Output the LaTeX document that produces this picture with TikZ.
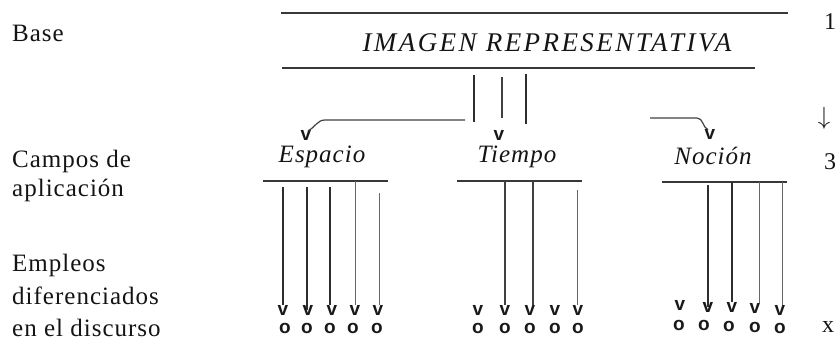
\documentclass[tikz,border=0pt]{standalone}
\usepackage{fontspec}
\setmainfont{Liberation Serif}
\newfontfamily\markfont{Liberation Sans}
\begin{document}
\begin{tikzpicture}[x=1pt,y=-1pt,
  lab/.style={anchor=base west, inner sep=0, text=black!92,
    font=\fontsize{25}{30}\selectfont\addfontfeatures{LetterSpace=4}},
  cat/.style={anchor=base, inner sep=0, text=black!92,
    font=\fontsize{25}{30}\selectfont\itshape\addfontfeatures{LetterSpace=4}},
  ttl/.style={anchor=base, inner sep=0, text=black!92,
    font=\fontsize{27}{30}\selectfont\itshape\addfontfeatures{LetterSpace=9}},
  num/.style={inner sep=0, text=black!92, font=\fontsize{24}{26}\selectfont},
  vm/.style={inner sep=0, text=black!90, font=\markfont\bfseries\fontsize{19}{20}\selectfont},
  om/.style={inner sep=0, text=black!90, font=\markfont\bfseries\fontsize{19}{20}\selectfont},
  rule/.style={draw=black!78, line width=1.4pt},
  darkln/.style={draw=black!82, line width=1.6pt},
  midln/.style={draw=black!75, line width=1.2pt},
  thinln/.style={draw=black!60, line width=1pt}]
\useasboundingbox (0,0) rectangle (840,344);

% left labels
\node[lab] (base) at (12,42) {Base};
\node[lab] (camp1) at (12,168) {Campos de};
\node[lab] (camp2) at (12,197) {aplicación};
\node[lab] (emp1) at (12,272) {Empleos};
\node[lab] (emp2) at (12,305) {diferenciados};
\node[lab] (emp3) at (12,337) {en el discurso};

% right column
\node[num] (n1) at (830,22) {1};
\node[num] (narr) at (824,118) {$\downarrow$};
\node[num] (n3) at (830,162) {3};
\node[num] (nx) at (828,327) {x};

% title
\coordinate (t1a) at (281,13); \coordinate (t1b) at (788,13);
\coordinate (t2a) at (282,68); \coordinate (t2b) at (755,68);
\draw[rule] (t1a) -- (t1b);
\draw[rule] (t2a) -- (t2b);
\node[ttl] (title) at (547,52) {IMAGEN REPRESENTATIVA};

% three stems
\coordinate (s1a) at (474,75); \coordinate (s1b) at (474,122);
\coordinate (s2a) at (502,77); \coordinate (s2b) at (502,118);
\coordinate (s3a) at (526,74); \coordinate (s3b) at (526,124);
\draw[darkln] (s1a) -- (s1b);
\draw[midln] (s2a) -- (s2b);
\draw[darkln] (s3a) -- (s3b);

% branch heads
\node[vm] (vE) at (306,135) {v};
\node[vm] (vT) at (499,135) {v};
\node[vm] (vN) at (710,134) {v};
\coordinate (bl1) at (465,120); \coordinate (bl2) at (325,120);
\draw[midln] (bl1) -- (bl2) to[out=180,in=25] ([xshift=2pt,yshift=-1pt]vE.north);
\coordinate (br1) at (650,118); \coordinate (br2) at (697,118);
\draw[midln] (br1) -- (br2) to[out=0,in=155] ([xshift=-2pt,yshift=-1pt]vN.north);

% categories
\node[cat] (esp) at (322,163) {Espacio};
\node[cat] (tie) at (517,163) {Tiempo};
\node[cat] (noc) at (713,165) {Noción};
\coordinate (eb1) at (263,181); \coordinate (eb2) at (388,181);
\coordinate (tb1) at (457,181); \coordinate (tb2) at (582,181);
\coordinate (nb1) at (662,182); \coordinate (nb2) at (787,182);
\draw[rule] (eb1) -- (eb2);
\draw[rule] (tb1) -- (tb2);
\draw[rule] (nb1) -- (nb2);

% Espacio marks
\foreach \i/\xv/\xo in {1/283/285,2/308/307,3/332/330,4/355/353,5/378/377}{
  \node[vm] (ve\i) at (\xv,310) {v};
  \node[om] (oe\i) at (\xo,328) {o};
}
% Tiempo marks
\foreach \i/\xv in {1/478,2/505,3/530,4/555,5/578}{
  \node[vm] (vt\i) at (\xv,310) {v};
  \node[om] (ot\i) at (\xv,328) {o};
}
% Nocion marks
\foreach \i/\xv/\yv/\xo/\yo in {1/680/305/679/325,2/708/307/704/325,3/732/307/729/326,4/755/308/755/327,5/780/310/780/328}{
  \node[vm] (vn\i) at (\xv,\yv) {v};
  \node[om] (on\i) at (\xo,\yo) {o};
}

% Espacio arrows
\coordinate (ea1) at (283,187); \coordinate (ea2) at (307,187);
\coordinate (ea3) at (330,187); \coordinate (ea4) at (355,181);
\coordinate (ea5) at (379,193);
\draw[darkln] (ea1) -- (ea1 |- ve1.north);
\draw[darkln] (ea2) -- (ea2 |- ve2.center);
\draw[darkln] (ea3) -- (ea3 |- ve3.north);
\draw[thinln] (ea4) -- (ea4 |- ve4.north);
\draw[thinln] (ea5) -- (ea5 |- ve5.north);

% Tiempo arrows
\coordinate (ta2) at (505,181); \coordinate (ta3) at (533,181);
\coordinate (ta5) at (577,190);
\draw[midln] (ta2) -- (ta2 |- vt2.north);
\draw[midln] (ta3) -- (ta3 |- vt3.north);
\draw[thinln] (ta5) -- (ta5 |- vt5.north);

% Nocion arrows
\coordinate (na2) at (708,185); \coordinate (na3) at (732,182);
\coordinate (na4) at (759,182); \coordinate (na5) at (782,182);
\draw[darkln] (na2) -- (na2 |- vn2.center);
\draw[darkln] (na3) -- (na3 |- vn3.north);
\draw[thinln] (na4) -- (na4 |- vn4.north);
\draw[thinln] (na5) -- (na5 |- vn5.north);
\end{tikzpicture}
\end{document}
